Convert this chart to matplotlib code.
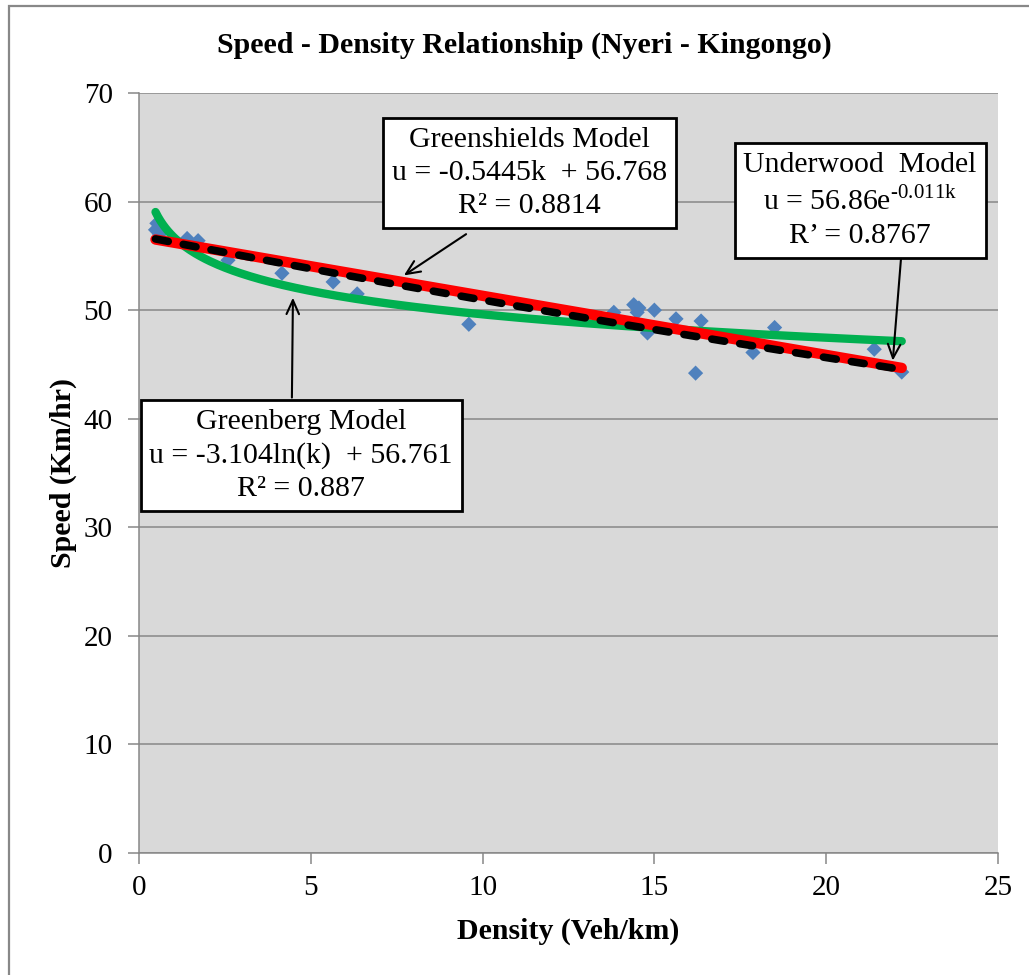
"""
Speed-density scatter for the Nyeri - Kingongo section with the three
classical traffic-flow model fits (Greenshields, Greenberg, Underwood).
"""

import numpy as np
import matplotlib
matplotlib.use('Agg')
import matplotlib.pyplot as plt
from matplotlib.patches import Rectangle
from matplotlib.ticker import MultipleLocator

plt.rcParams['font.family'] = ['Liberation Serif', 'DejaVu Serif']
plt.rcParams['mathtext.fontset'] = 'custom'
plt.rcParams['mathtext.rm'] = 'Liberation Serif'

# Observed density (veh/km) and space-mean speed (km/hr)
density = [0.48, 0.52, 0.60, 1.40, 1.72, 2.59, 4.16, 5.65, 6.35, 9.60,
           13.82, 14.40, 14.50, 14.55, 14.80, 15.00, 15.63, 16.20, 16.36,
           17.87, 18.50, 21.40, 22.20]
speed = [57.4, 58.0, 57.0, 56.6, 56.4, 54.6, 53.4, 52.6, 51.5, 48.7,
         49.8, 50.5, 49.8, 50.2, 47.9, 50.0, 49.2, 44.2, 49.0,
         46.1, 48.4, 46.4, 44.3]

# Fitted model coefficients
greenshields = (-0.5445, 56.768)   # u = a*k + b
greenberg = (-3.104, 56.761)       # u = a*ln(k) + b
underwood = (56.86, -0.011)        # u = a*exp(b*k)
k_range = (0.48, 22.2)

GRID = '#878787'
BG = '#d9d9d9'


def main():
    fig = plt.figure(figsize=(10.29, 9.75), dpi=100)
    ax = fig.add_axes([0.1351, 0.1251, 0.8347, 0.7795])
    ax.set_facecolor(BG)

    # chart-area border (clipped at right/bottom)
    fig.patches.append(Rectangle(
        (9 / 1029, -0.05), 1.2, 1 - 6 / 975 + 0.05,
        transform=fig.transFigure, fill=False, edgecolor='#888888',
        linewidth=1.6, zorder=0
    ))

    ax.scatter(density, speed, marker='D', s=60, color='#4f81bd',
               edgecolor='none', zorder=3)

    k = np.linspace(k_range[0], k_range[1], 300)
    u_gs = greenshields[0] * k + greenshields[1]
    u_gb = greenberg[0] * np.log(k) + greenberg[1]
    u_uw = underwood[0] * np.exp(underwood[1] * k)
    ax.plot(k, u_gb, color='#00b050', lw=6, solid_capstyle='round', zorder=4)
    ax.plot(k, u_gs, color='#ff0000', lw=7.5, solid_capstyle='round', zorder=5)
    ax.plot(k, u_uw, color='black', lw=5.5, dashes=(1.7, 2.0),
            dash_capstyle='round', zorder=6)

    ax.set_xlim(0, 25)
    ax.set_ylim(0, 70)
    ax.xaxis.set_major_locator(MultipleLocator(5))
    ax.yaxis.set_major_locator(MultipleLocator(10))
    ax.yaxis.grid(True, color=GRID, lw=1.1)
    ax.set_axisbelow(True)
    for side in ('top', 'right'):
        ax.spines[side].set_visible(False)
    for side in ('left', 'bottom'):
        ax.spines[side].set_color(GRID)
        ax.spines[side].set_linewidth(1.1)
    ax.tick_params(axis='both', direction='out', length=8, width=1.1,
                   color=GRID, labelsize=21)
    ax.tick_params(axis='x', pad=8)
    ax.tick_params(axis='y', pad=11)

    ax.set_xlabel('Density (Veh/km)', fontsize=21.5, fontweight='bold',
                  labelpad=12)
    ax.set_ylabel('Speed (Km/hr)', fontsize=21.5, fontweight='bold',
                  labelpad=5)
    fig.text(0.510, 1 - 45 / 975, 'Speed - Density Relationship (Nyeri - Kingongo)',
             ha='center', va='center', fontsize=21.5, fontweight='bold')

    box = dict(boxstyle='square,pad=0.3', facecolor='white',
               edgecolor='black', linewidth=2)
    arrow = dict(arrowstyle='->,head_length=1.0,head_width=0.45',
                 color='black', lw=1.5, shrinkA=0, shrinkB=0)
    text_kw = dict(ha='center', va='center', multialignment='center',
                   fontsize=21.5, linespacing=1.35, bbox=box, zorder=8)

    ax.annotate('', xy=(7.71, 53.2), xytext=(9.52, 57.0),
                arrowprops=arrow, zorder=7)
    ax.text(11.36, 62.6,
            'Greenshields Model\nu = -0.5445k  + 56.768\nR\u00b2 = 0.8814',
            **text_kw)

    ax.annotate('', xy=(4.48, 51.15), xytext=(4.45, 41.95),
                arrowprops=arrow, zorder=7)
    ax.text(4.72, 36.6,
            'Greenberg Model\nu = -3.104ln(k)  + 56.761\nR\u00b2 = 0.887',
            **text_kw)

    ax.annotate('', xy=(21.94, 45.35), xytext=(22.18, 54.8),
                arrowprops=arrow, zorder=7)
    ax.text(20.99, 60.1,
            'Underwood  Model\nu = 56.86e$^{\\mathregular{\u20100.011k}}$\nR\u2019 = 0.8767',
            **text_kw)

    fig.savefig('out.png', dpi=100)
    plt.close(fig)


if __name__ == '__main__':
    main()
